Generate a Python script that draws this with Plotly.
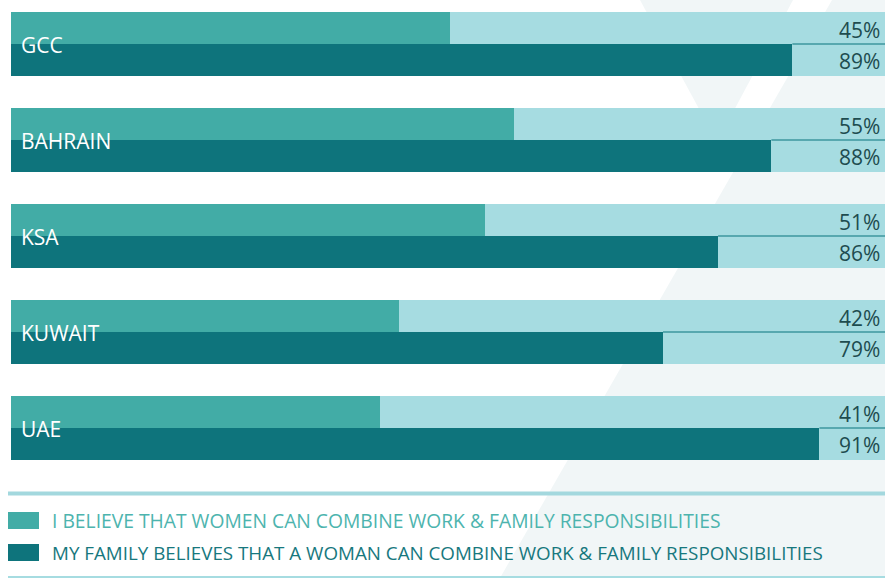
import plotly.graph_objects as go

W, H = 885, 578

countries = ["GCC", "BAHRAIN", "KSA", "KUWAIT", "UAE"]
# printed percentages
self_labels = [45, 55, 51, 42, 41]
family_labels = [89, 88, 86, 79, 91]
# bar lengths as drawn in the picture (% of full track)
self_bar = [50.2, 57.5, 54.2, 44.4, 42.2]
family_bar = [89.4, 87.0, 80.9, 74.6, 92.5]

legend_labels = [
    "I BELIEVE THAT WOMEN CAN COMBINE WORK & FAMILY RESPONSIBILITIES",
    "MY FAMILY BELIEVES THAT A WOMAN CAN COMBINE WORK & FAMILY RESPONSIBILITIES",
]

C_TRACK = "#A6DCE1"
C_SELF = "#42ACA6"
C_FAMILY = "#0E747C"
C_TEXT = "#1E4C4F"
C_SHAPE = "#F1F6F7"
FONT = "Open Sans"

n = len(countries)
y_self = [3 * i + 0.5 for i in range(n)]
y_family = [3 * i + 1.5 for i in range(n)]

fig = go.Figure()
# background tracks
fig.add_trace(go.Bar(x=[100] * n, y=y_self, orientation="h", width=1,
                     marker=dict(color=C_TRACK, line=dict(width=0)), hoverinfo="skip"))
fig.add_trace(go.Bar(x=[100] * n, y=y_family, orientation="h", width=1,
                     marker=dict(color=C_TRACK, line=dict(width=0)), hoverinfo="skip"))
# value bars
fig.add_trace(go.Bar(x=self_bar, y=y_self, orientation="h", width=1, name=legend_labels[0],
                     marker=dict(color=C_SELF, line=dict(width=0))))
fig.add_trace(go.Bar(x=family_bar, y=y_family, orientation="h", width=1, name=legend_labels[1],
                     marker=dict(color=C_FAMILY, line=dict(width=0))))

shapes = []
# faint background decoration (paper coords)
def P(x, y):
    return f"{x / W:.5f},{1 - y / H:.5f}"

shapes.append(dict(type="path", xref="paper", yref="paper", layer="below",
                   path=f"M{P(832, 0)} L{P(885, 0)} L{P(885, 578)} L{P(500, 578)} Z",
                   fillcolor=C_SHAPE, line=dict(width=0)))
shapes.append(dict(type="path", xref="paper", yref="paper", layer="below",
                   path=f"M{P(640, 0)} L{P(793, 0)} L{P(717, 142)} Z",
                   fillcolor=C_SHAPE, line=dict(width=0)))

# thin divider between the two tracks of each group
for i in range(n):
    shapes.append(dict(type="line", xref="x", yref="y", layer="above",
                       x0=family_bar[i], x1=100, y0=3 * i + 1, y1=3 * i + 1,
                       line=dict(color="#3C979E", width=1.5)))

# legend rules
shapes.append(dict(type="line", xref="paper", yref="paper",
                   x0=8 / W, x1=1, y0=1 - 493.5 / H, y1=1 - 493.5 / H,
                   line=dict(color="#A3D8DE", width=4)))
shapes.append(dict(type="line", xref="paper", yref="paper",
                   x0=8 / W, x1=1, y0=1 - 577 / H, y1=1 - 577 / H,
                   line=dict(color="#A6DCE1", width=2)))
# legend swatches
for k, col in enumerate([C_SELF, C_FAMILY]):
    y0 = 512 + 32 * k
    shapes.append(dict(type="rect", xref="paper", yref="paper",
                       x0=8 / W, x1=39 / W, y0=1 - (y0 + 17) / H, y1=1 - y0 / H,
                       fillcolor=col, line=dict(width=0)))

annotations = []
for i in range(n):
    annotations.append(dict(x=0, y=3 * i + 1, xref="x", yref="y", text=countries[i],
                            xanchor="left", yanchor="middle", xshift=8, yshift=-1,
                            showarrow=False, font=dict(family=FONT, size=21, color="white")))
    annotations.append(dict(x=100, y=y_self[i], xref="x", yref="y", text=f"{self_labels[i]}%",
                            xanchor="right", yanchor="middle", xshift=-3, yshift=-2,
                            showarrow=False, font=dict(family=FONT, size=21, color=C_TEXT)))
    annotations.append(dict(x=100, y=y_family[i], xref="x", yref="y", text=f"{family_labels[i]}%",
                            xanchor="right", yanchor="middle", xshift=-3, yshift=-1,
                            showarrow=False, font=dict(family=FONT, size=21, color=C_TEXT)))

legend_sizes = [19.3, 18.8]
for k, (lab, col) in enumerate(zip(legend_labels, ["#4DB4AE", "#17787E"])):
    yc = 520.5 + 32 * k
    annotations.append(dict(x=50 / W, y=1 - yc / H, xref="paper", yref="paper", text=lab,
                            xanchor="left", yanchor="middle", showarrow=False,
                            font=dict(family=FONT, size=legend_sizes[k], color=col)))

fig.update_layout(
    width=W, height=H,
    margin=dict(l=0, r=0, t=0, b=0),
    paper_bgcolor="white", plot_bgcolor="rgba(0,0,0,0)",
    barmode="overlay", bargap=0, showlegend=False,
    xaxis=dict(range=[0, 100], domain=[11 / W, 1], visible=False, fixedrange=True),
    yaxis=dict(range=[14, 0], domain=[1 - 460 / H, 1 - 12 / H], visible=False, fixedrange=True),
    shapes=shapes, annotations=annotations,
)

fig.write_html("out.html", config={"displayModeBar": False},
               post_script="document.body.style.margin='0';document.body.style.overflow='hidden';")
